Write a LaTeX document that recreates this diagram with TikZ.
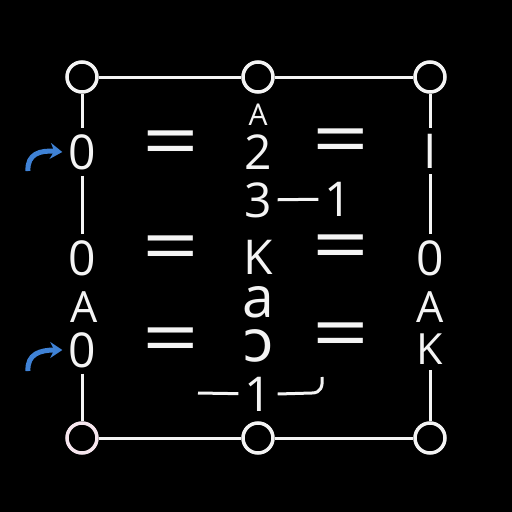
\documentclass[tikz,border=0pt]{standalone}
\usepackage{fontspec}
\setmainfont{Open Sans}
\newfontfamily\ipafont{DejaVu Sans}
\usetikzlibrary{positioning,arrows.meta,calc}
\definecolor{cInk}{HTML}{F4F4F4}
\definecolor{cArrow}{HTML}{3F82D6}
\definecolor{cRose}{HTML}{F6E6EE}
\tikzset{
  ring/.style={circle,draw=cInk,line width=3.5pt,minimum size=30pt,inner sep=0pt},
  glyph/.style={text=cInk,inner sep=0pt,outer sep=6pt,font=\fontsize{48}{48}\selectfont},
  small/.style={glyph,font=\fontsize{30}{30}\selectfont},
  letter/.style={glyph,font=\fontsize{43}{43}\selectfont},
  lower/.style={glyph,font=\fontsize{57}{57}\selectfont},
  eqsign/.style={text=cInk,inner sep=0pt,font=\fontsize{62}{62}\selectfont},
  edge/.style={draw=cInk,line width=3pt},
  jump/.style={draw=cArrow,line width=5pt,-{Stealth[length=12pt,width=16pt]}}
}
\newcommand{\eqmark}{\scalebox{1.6}[1.25]{=}}
\begin{document}
\begin{tikzpicture}[x=1pt,y=-1pt]
  \fill[black] (0,0) rectangle (512,512);
  \useasboundingbox (0,0) rectangle (512,512);
  % corner and middle rings
  \node[ring] (tl) at (82,77) {};
  \node[ring] (tm) at (258,77) {};
  \node[ring] (tr) at (430,77) {};
  \node[ring,draw=cRose] (bl) at (82,438) {};
  \node[ring] (bm) at (258,438) {};
  \node[ring] (br) at (430,438) {};
  % left column
  \node[glyph] (l1) at (82,152) {0};
  \node[glyph] (l2) at (82,258) {0};
  \node[letter] (l3) at (84,307) {A};
  \node[glyph] (l4) at (82,350) {0};
  % middle column
  \node[small] (m0) at (258,115) {A};
  \node[glyph] (m1) at (258,152) {2};
  \node[glyph] (m2) at (258,200) {3};
  \node[glyph] (m2b) at (338,199) {1};
  \node[glyph] (m3) at (258,257) {K};
  \node[lower] (m4) at (258,302) {a};
  \node[lower] (m5) at (258,346) {\ipafont ɔ};
  \node[glyph] (m6) at (258,394) {1};
  % right column
  \node[glyph] (r1) at (430,151) {I};
  \node[glyph] (r2) at (430,258) {0};
  \node[letter] (r3) at (430,307) {A};
  \node[letter] (r4) at (430,349) {K};
  % equals signs
  \foreach \y/\n in {150/1,255/2,347/3} \node[eqsign] (el\n) at (171,\y) {\eqmark};
  \foreach \y/\n in {148/1,254/2,342/3} \node[eqsign] (er\n) at (341,\y) {\eqmark};
  % frame
  \draw[edge] (tl) -- (tm);
  \draw[edge] (tm) -- (tr);
  \draw[edge] (bl) -- (bm);
  \draw[edge] (bm) -- (br);
  \draw[edge] (tl) -- (l1);
  \draw[edge] (l1) -- (l2);
  \draw[edge] (l4) -- (bl);
  \draw[edge] (tr) -- (r1);
  \draw[edge] (r1) -- (r2);
  \draw[edge] (r4) -- (br);
  \draw[edge] (m2) -- (m2b);
  % bottom dash with hook
  \coordinate (dl) at (198,393);
  \coordinate (hk) at (322,377);
  \draw[edge] (dl) -- (m6);
  \draw[edge] (m6.east) -- (312,393) .. controls (321,393) and (323,386) .. (hk);
  % blue arrows
  \coordinate (a1) at (28,171);
  \coordinate (a2) at (28,371);
  \draw[jump] (a1) .. controls (27,154) and (40,150) .. (l1.west);
  \draw[jump] (a2) .. controls (27,354) and (40,350) .. (l4.west);
\end{tikzpicture}
\end{document}
